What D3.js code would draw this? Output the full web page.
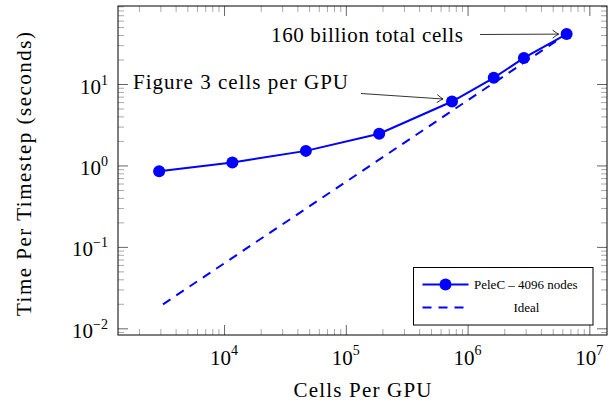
<!DOCTYPE html>
<html lang="en">
<head>
<meta charset="UTF-8">
<title>PeleC weak scaling</title>
<script src="https://cdn.jsdelivr.net/npm/d3@7"></script>
<style>
    body {
        margin: 0;
        background: #fff;
    }

    svg text {
        font-family: "Liberation Serif", "DejaVu Serif", serif;
        fill: #000;
    }

    .frame {
        fill: none;
        stroke: #000;
        stroke-width: 1;
    }

    .major line {
        stroke: #666;
    }

    .minor line {
        stroke: #aaa;
    }
</style>
</head>
<body>
<svg id="chart" width="611" height="406"></svg>
<script>
    // data
    const cellsPerGpu = [2930, 11700, 47000, 188000, 745000, 1640000, 2900000, 6510000];
    const timePerStep = [0.85, 1.09, 1.51, 2.45, 6.1, 11.9, 20.9, 41];
    const idealCells = [3150, 6510000];
    const idealTime = [0.0197, 41];
    const xMajor = [1e4, 1e5, 1e6, 1e7];
    const yMajor = [1e-2, 1e-1, 1e0, 1e1];
    const xExp = ["4", "5", "6", "7"];
    const yExp = ["\u22122", "\u22121", "0", "1"];

    const margin = { top: 6, right: 4, bottom: 71, left: 118 },
        W = 611, H = 406;

    const svg = d3.select("#chart");

    const x = d3.scaleLog()
        .domain([Math.pow(10, 3.129), Math.pow(10, 7.145)])
        .range([margin.left, W - margin.right]);
    const y = d3.scaleLog()
        .domain([Math.pow(10, -2.082), Math.pow(10, 1.958)])
        .range([H - margin.bottom, margin.top]);

    const isPow = v => Math.abs(Math.log10(v) - Math.round(Math.log10(v))) < 1e-9;
    const xMinor = x.ticks().filter(v => !isPow(v));
    const yMinor = y.ticks().filter(v => !isPow(v));

    const x0 = margin.left, x1 = W - margin.right,
        y0 = H - margin.bottom, y1 = margin.top;

    // ticks on all four sides, pointing in
    function ticks(axisFn, scale, vals, len, cls, tr) {
        svg.append("g")
            .attr("class", cls)
            .attr("transform", tr)
            .call(axisFn(scale).tickValues(vals).tickSize(len).tickFormat(""))
            .call(g => g.select(".domain").remove());
    }
    ticks(d3.axisBottom, x, xMajor, -10, "major", `translate(0,${y0})`);
    ticks(d3.axisBottom, x, xMinor, -6, "minor", `translate(0,${y0})`);
    ticks(d3.axisTop, x, xMajor, -10, "major", `translate(0,${y1})`);
    ticks(d3.axisTop, x, xMinor, -6, "minor", `translate(0,${y1})`);
    ticks(d3.axisLeft, y, yMajor, -10, "major", `translate(${x0},0)`);
    ticks(d3.axisLeft, y, yMinor, -6, "minor", `translate(${x0},0)`);
    ticks(d3.axisRight, y, yMajor, -10, "major", `translate(${x1},0)`);
    ticks(d3.axisRight, y, yMinor, -6, "minor", `translate(${x1},0)`);

    svg.append("rect")
        .attr("class", "frame")
        .attr("x", x0).attr("y", y1)
        .attr("width", x1 - x0).attr("height", y0 - y1);

    // tick labels, 10 with superscript
    const xl = svg.append("g").selectAll("text")
        .data(xMajor)
        .enter().append("text")
        .attr("x", d => x(d))
        .attr("y", 364.5)
        .attr("text-anchor", "middle")
        .style("font-size", "21px");
    xl.append("tspan").text("10");
    xl.append("tspan").attr("dy", -10).style("font-size", "14px").text((d, i) => xExp[i]);

    const yl = svg.append("g").selectAll("text")
        .data(yMajor)
        .enter().append("text")
        .attr("x", 108)
        .attr("y", d => y(d) + 9.5)
        .attr("text-anchor", "end")
        .style("font-size", "21px");
    yl.append("tspan").text("10");
    yl.append("tspan").attr("dy", -9).style("font-size", "14px").text((d, i) => yExp[i]);

    // axis titles
    svg.append("text")
        .attr("x", (x0 + x1) / 2)
        .attr("y", 397)
        .attr("text-anchor", "middle")
        .attr("textLength", 138)
        .style("font-size", "21px")
        .text("Cells Per GPU");

    svg.append("text")
        .attr("transform", "translate(31,174) rotate(-90)")
        .attr("text-anchor", "middle")
        .attr("textLength", 284)
        .style("font-size", "21px")
        .text("Time Per Timestep (seconds)");

    // series
    const line = d3.line().x(d => x(d[0])).y(d => y(d[1]));

    svg.append("path")
        .datum(idealCells.map((c, i) => [c, idealTime[i]]))
        .attr("d", line)
        .attr("fill", "none")
        .attr("stroke", "#0000ff")
        .attr("stroke-width", 2)
        .attr("stroke-dasharray", "9,7");

    const pts = cellsPerGpu.map((c, i) => [c, timePerStep[i]]);
    svg.append("path")
        .datum(pts)
        .attr("d", line)
        .attr("fill", "none")
        .attr("stroke", "#0000ff")
        .attr("stroke-width", 2);

    svg.append("g").selectAll("circle")
        .data(pts)
        .enter().append("circle")
        .attr("cx", d => x(d[0]))
        .attr("cy", d => y(d[1]))
        .attr("r", 6)
        .attr("fill", "#0000ff");

    // annotations
    svg.append("defs").append("marker")
        .attr("id", "tip")
        .attr("viewBox", "-8 -5 10 10")
        .attr("markerWidth", 10).attr("markerHeight", 10)
        .attr("markerUnits", "userSpaceOnUse")
        .attr("orient", "auto")
        .append("path")
        .attr("d", "M-6,-4 Q-2,-1 0,0 Q-2,1 -6,4")
        .attr("fill", "none")
        .attr("stroke", "#000")
        .attr("stroke-width", 0.8);

    const last = pts[pts.length - 1], fig3 = pts[4];

    svg.append("text")
        .attr("x", 271).attr("y", 42)
        .attr("textLength", 192)
        .style("font-size", "21px")
        .text("160 billion total cells");
    svg.append("line")
        .attr("x1", 480).attr("y1", 34.5)
        .attr("x2", x(last[0]) - 8).attr("y2", y(last[1]))
        .attr("stroke", "#000").attr("stroke-width", 0.8)
        .attr("marker-end", "url(#tip)");

    svg.append("text")
        .attr("x", 133).attr("y", 88.5)
        .attr("textLength", 215)
        .style("font-size", "21px")
        .text("Figure 3 cells per GPU");
    svg.append("line")
        .attr("x1", 361).attr("y1", 93.5)
        .attr("x2", x(fig3[0]) - 9).attr("y2", y(fig3[1]) - 2.5)
        .attr("stroke", "#000").attr("stroke-width", 0.8)
        .attr("marker-end", "url(#tip)");

    // legend
    const lg = svg.append("g").attr("transform", "translate(413.5,267.5)");
    lg.append("rect")
        .attr("width", 179.5).attr("height", 57.5)
        .attr("fill", "#fff").attr("stroke", "#000").attr("stroke-width", 1);
    lg.append("line")
        .attr("x1", 9).attr("x2", 55).attr("y1", 17).attr("y2", 17)
        .attr("stroke", "#0000ff").attr("stroke-width", 2);
    lg.append("circle").attr("cx", 32).attr("cy", 17).attr("r", 6).attr("fill", "#0000ff");
    lg.append("text")
        .attr("x", 60.5).attr("y", 21)
        .style("font-size", "13px")
        .text("PeleC \u2013 4096 nodes");
    lg.append("line")
        .attr("x1", 9).attr("x2", 55).attr("y1", 40).attr("y2", 40)
        .attr("stroke", "#0000ff").attr("stroke-width", 2)
        .attr("stroke-dasharray", "9,7");
    lg.append("text")
        .attr("x", 113).attr("y", 44)
        .attr("text-anchor", "middle")
        .style("font-size", "13px")
        .text("Ideal");
</script>
</body>
</html>
